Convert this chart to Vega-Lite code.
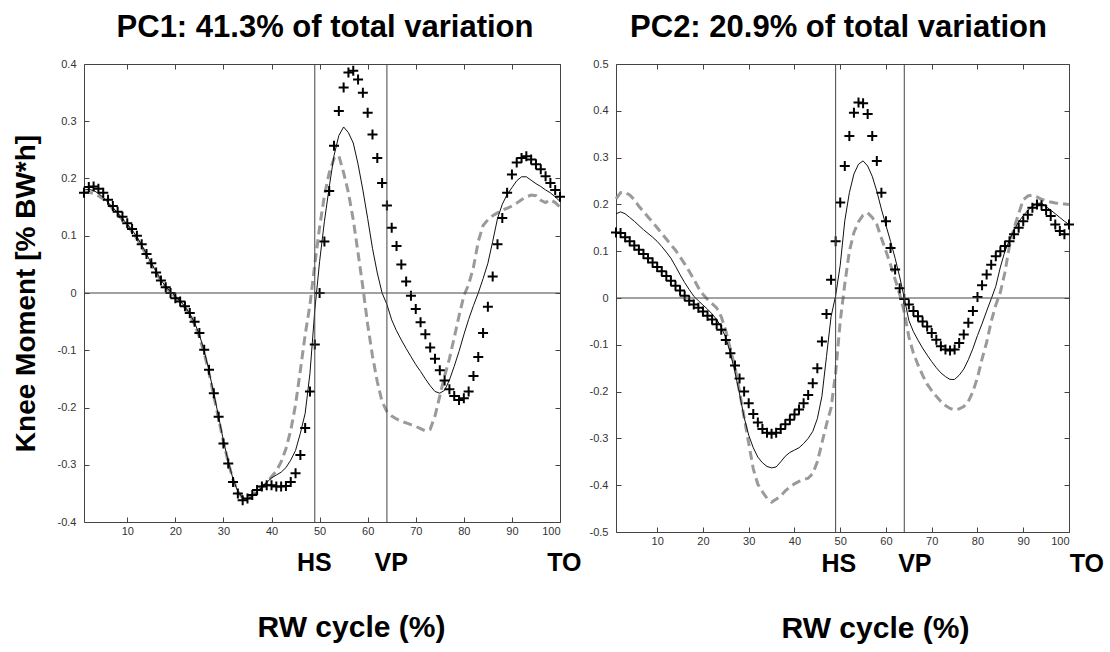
{
  "$schema": "https://vega.github.io/schema/vega-lite/v6.json",
  "background": "white",
  "padding": {"left": 12, "top": 12, "right": 5, "bottom": 5},
  "spacing": 7,
  "config": {
    "view": {"stroke": null},
    "font": "Liberation Sans",
    "axis": {
      "grid": false,
      "domainColor": "#444",
      "tickColor": "#444",
      "tickSize": -5,
      "labelColor": "#333",
      "labelFontSize": 11,
      "labelFont": "Liberation Sans",
      "titleFont": "Liberation Sans",
      "titleFontWeight": "bold",
      "titleColor": "#000"
    },
    "title": {"fontSize": 31, "fontWeight": "bold", "font": "Liberation Sans", "color": "#000", "offset": 14}
  },
  "datasets": {
    "pc1": [
      {"x":1,"p":0.175,"m":0.180,"d":0.175},{"x":2,"p":0.185,"m":0.181,"d":0.176},{"x":3,"p":0.186,"m":0.179,"d":0.174},{"x":4,"p":0.182,"m":0.174,"d":0.170},{"x":5,"p":0.175,"m":0.167,"d":0.164},
      {"x":6,"p":0.163,"m":0.158,"d":0.156},{"x":7,"p":0.152,"m":0.149,"d":0.147},{"x":8,"p":0.142,"m":0.140,"d":0.138},{"x":9,"p":0.133,"m":0.130,"d":0.128},{"x":10,"p":0.122,"m":0.120,"d":0.118},
      {"x":11,"p":0.112,"m":0.110,"d":0.107},{"x":12,"p":0.100,"m":0.098,"d":0.095},{"x":13,"p":0.085,"m":0.084,"d":0.081},{"x":14,"p":0.068,"m":0.068,"d":0.066},{"x":15,"p":0.052,"m":0.052,"d":0.050},
      {"x":16,"p":0.036,"m":0.037,"d":0.035},{"x":17,"p":0.022,"m":0.023,"d":0.022},{"x":18,"p":0.010,"m":0.011,"d":0.010},{"x":19,"p":0.000,"m":0.002,"d":0.001},{"x":20,"p":-0.009,"m":-0.006,"d":-0.007},
      {"x":21,"p":-0.015,"m":-0.014,"d":-0.015},{"x":22,"p":-0.023,"m":-0.024,"d":-0.025},{"x":23,"p":-0.035,"m":-0.036,"d":-0.038},{"x":24,"p":-0.050,"m":-0.052,"d":-0.055},{"x":25,"p":-0.070,"m":-0.073,"d":-0.077},
      {"x":26,"p":-0.099,"m":-0.101,"d":-0.105},{"x":27,"p":-0.134,"m":-0.136,"d":-0.140},{"x":28,"p":-0.175,"m":-0.176,"d":-0.180},{"x":29,"p":-0.216,"m":-0.216,"d":-0.220},{"x":30,"p":-0.263,"m":-0.258,"d":-0.260},
      {"x":31,"p":-0.298,"m":-0.294,"d":-0.296},{"x":32,"p":-0.330,"m":-0.325,"d":-0.326},{"x":33,"p":-0.350,"m":-0.347,"d":-0.347},{"x":34,"p":-0.362,"m":-0.358,"d":-0.358},{"x":35,"p":-0.359,"m":-0.360,"d":-0.358},
      {"x":36,"p":-0.353,"m":-0.355,"d":-0.353},{"x":37,"p":-0.344,"m":-0.347,"d":-0.346},{"x":38,"p":-0.338,"m":-0.339,"d":-0.339},{"x":39,"p":-0.336,"m":-0.331,"d":-0.332},{"x":40,"p":-0.336,"m":-0.323,"d":-0.321},
      {"x":41,"p":-0.338,"m":-0.318,"d":-0.311},{"x":42,"p":-0.338,"m":-0.313,"d":-0.295},{"x":43,"p":-0.337,"m":-0.305,"d":-0.272},{"x":44,"p":-0.330,"m":-0.292,"d":-0.240},{"x":45,"p":-0.315,"m":-0.275,"d":-0.195},
      {"x":46,"p":-0.283,"m":-0.245,"d":-0.135},{"x":47,"p":-0.236,"m":-0.210,"d":-0.073},{"x":48,"p":-0.172,"m":-0.140,"d":-0.020},{"x":49,"p":-0.090,"m":-0.030,"d":0.050},{"x":50,"p":0.000,"m":0.055,"d":0.115},
      {"x":51,"p":0.090,"m":0.125,"d":0.170},{"x":52,"p":0.178,"m":0.185,"d":0.210},{"x":53,"p":0.257,"m":0.240,"d":0.235},{"x":54,"p":0.318,"m":0.275,"d":0.240},{"x":55,"p":0.359,"m":0.290,"d":0.210},
      {"x":56,"p":0.385,"m":0.280,"d":0.175},{"x":57,"p":0.388,"m":0.262,"d":0.128},{"x":58,"p":0.373,"m":0.225,"d":0.070},{"x":59,"p":0.350,"m":0.180,"d":0.010},{"x":60,"p":0.315,"m":0.130,"d":-0.055},
      {"x":61,"p":0.277,"m":0.078,"d":-0.110},{"x":62,"p":0.236,"m":0.035,"d":-0.155},{"x":63,"p":0.192,"m":0.000,"d":-0.190},{"x":64,"p":0.153,"m":-0.020,"d":-0.207},{"x":65,"p":0.114,"m":-0.047,"d":-0.215},
      {"x":66,"p":0.082,"m":-0.066,"d":-0.220},{"x":67,"p":0.050,"m":-0.082,"d":-0.224},{"x":68,"p":0.020,"m":-0.097,"d":-0.227},{"x":69,"p":-0.005,"m":-0.111,"d":-0.230},{"x":70,"p":-0.028,"m":-0.125,"d":-0.233},
      {"x":71,"p":-0.051,"m":-0.137,"d":-0.237},{"x":72,"p":-0.072,"m":-0.150,"d":-0.241},{"x":73,"p":-0.095,"m":-0.162,"d":-0.238},{"x":74,"p":-0.115,"m":-0.172,"d":-0.215},{"x":75,"p":-0.135,"m":-0.175,"d":-0.180},
      {"x":76,"p":-0.153,"m":-0.170,"d":-0.145},{"x":77,"p":-0.168,"m":-0.152,"d":-0.115},{"x":78,"p":-0.180,"m":-0.128,"d":-0.078},{"x":79,"p":-0.187,"m":-0.102,"d":-0.040},{"x":80,"p":-0.184,"m":-0.073,"d":-0.005},
      {"x":81,"p":-0.172,"m":-0.046,"d":0.015},{"x":82,"p":-0.145,"m":-0.022,"d":0.045},{"x":83,"p":-0.112,"m":0.000,"d":0.090},{"x":84,"p":-0.070,"m":0.025,"d":0.118},{"x":85,"p":-0.024,"m":0.052,"d":0.128},
      {"x":86,"p":0.029,"m":0.090,"d":0.135},{"x":87,"p":0.085,"m":0.130,"d":0.140},{"x":88,"p":0.131,"m":0.155,"d":0.145},{"x":89,"p":0.175,"m":0.172,"d":0.148},{"x":90,"p":0.207,"m":0.184,"d":0.152},
      {"x":91,"p":0.228,"m":0.196,"d":0.157},{"x":92,"p":0.236,"m":0.203,"d":0.163},{"x":93,"p":0.239,"m":0.203,"d":0.168},{"x":94,"p":0.233,"m":0.197,"d":0.171},{"x":95,"p":0.225,"m":0.191,"d":0.170},
      {"x":96,"p":0.216,"m":0.186,"d":0.162},{"x":97,"p":0.204,"m":0.180,"d":0.158},{"x":98,"p":0.192,"m":0.175,"d":0.163},{"x":99,"p":0.180,"m":0.168,"d":0.158},{"x":100,"p":0.168,"m":0.160,"d":0.150}
    ],
    "pc2": [
      {"x":1,"p":0.140,"m":0.180,"d":0.212},{"x":2,"p":0.139,"m":0.184,"d":0.225},{"x":3,"p":0.130,"m":0.180,"d":0.226},{"x":4,"p":0.121,"m":0.172,"d":0.220},{"x":5,"p":0.112,"m":0.164,"d":0.210},
      {"x":6,"p":0.103,"m":0.155,"d":0.196},{"x":7,"p":0.094,"m":0.146,"d":0.185},{"x":8,"p":0.085,"m":0.138,"d":0.173},{"x":9,"p":0.076,"m":0.130,"d":0.162},{"x":10,"p":0.066,"m":0.121,"d":0.150},
      {"x":11,"p":0.057,"m":0.110,"d":0.138},{"x":12,"p":0.047,"m":0.098,"d":0.126},{"x":13,"p":0.037,"m":0.085,"d":0.114},{"x":14,"p":0.026,"m":0.068,"d":0.102},{"x":15,"p":0.016,"m":0.050,"d":0.088},
      {"x":16,"p":0.005,"m":0.033,"d":0.073},{"x":17,"p":-0.006,"m":0.018,"d":0.057},{"x":18,"p":-0.014,"m":0.004,"d":0.040},{"x":19,"p":-0.021,"m":-0.006,"d":0.022},{"x":20,"p":-0.029,"m":-0.015,"d":0.008},
      {"x":21,"p":-0.038,"m":-0.024,"d":-0.003},{"x":22,"p":-0.046,"m":-0.034,"d":-0.012},{"x":23,"p":-0.056,"m":-0.046,"d":-0.021},{"x":24,"p":-0.068,"m":-0.062,"d":-0.040},{"x":25,"p":-0.090,"m":-0.085,"d":-0.070},
      {"x":26,"p":-0.118,"m":-0.118,"d":-0.110},{"x":27,"p":-0.144,"m":-0.158,"d":-0.148},{"x":28,"p":-0.172,"m":-0.205,"d":-0.200},{"x":29,"p":-0.200,"m":-0.255,"d":-0.255},{"x":30,"p":-0.225,"m":-0.293,"d":-0.310},
      {"x":31,"p":-0.248,"m":-0.320,"d":-0.365},{"x":32,"p":-0.266,"m":-0.340,"d":-0.398},{"x":33,"p":-0.280,"m":-0.352,"d":-0.414},{"x":34,"p":-0.288,"m":-0.360,"d":-0.428},{"x":35,"p":-0.290,"m":-0.363,"d":-0.436},
      {"x":36,"p":-0.288,"m":-0.361,"d":-0.430},{"x":37,"p":-0.280,"m":-0.350,"d":-0.423},{"x":38,"p":-0.270,"m":-0.338,"d":-0.412},{"x":39,"p":-0.260,"m":-0.330,"d":-0.404},{"x":40,"p":-0.249,"m":-0.325,"d":-0.397},
      {"x":41,"p":-0.238,"m":-0.320,"d":-0.392},{"x":42,"p":-0.225,"m":-0.311,"d":-0.388},{"x":43,"p":-0.207,"m":-0.300,"d":-0.385},{"x":44,"p":-0.182,"m":-0.285,"d":-0.375},{"x":45,"p":-0.150,"m":-0.258,"d":-0.350},
      {"x":46,"p":-0.093,"m":-0.210,"d":-0.310},{"x":47,"p":-0.034,"m":-0.125,"d":-0.270},{"x":48,"p":0.039,"m":-0.040,"d":-0.235},{"x":49,"p":0.121,"m":0.005,"d":-0.160},{"x":50,"p":0.204,"m":0.070,"d":-0.050},
      {"x":51,"p":0.282,"m":0.165,"d":0.030},{"x":52,"p":0.346,"m":0.225,"d":0.100},{"x":53,"p":0.396,"m":0.265,"d":0.140},{"x":54,"p":0.418,"m":0.286,"d":0.163},{"x":55,"p":0.416,"m":0.293,"d":0.177},
      {"x":56,"p":0.393,"m":0.282,"d":0.182},{"x":57,"p":0.346,"m":0.260,"d":0.172},{"x":58,"p":0.293,"m":0.228,"d":0.157},{"x":59,"p":0.225,"m":0.190,"d":0.128},{"x":60,"p":0.164,"m":0.155,"d":0.100},
      {"x":61,"p":0.107,"m":0.121,"d":0.071},{"x":62,"p":0.061,"m":0.085,"d":0.040},{"x":63,"p":0.021,"m":0.045,"d":0.008},{"x":64,"p":-0.002,"m":0.000,"d":-0.030},{"x":65,"p":-0.014,"m":-0.048,"d":-0.083},
      {"x":66,"p":-0.028,"m":-0.072,"d":-0.118},{"x":67,"p":-0.039,"m":-0.090,"d":-0.143},{"x":68,"p":-0.050,"m":-0.107,"d":-0.165},{"x":69,"p":-0.061,"m":-0.122,"d":-0.184},{"x":70,"p":-0.075,"m":-0.136,"d":-0.198},
      {"x":71,"p":-0.089,"m":-0.149,"d":-0.210},{"x":72,"p":-0.103,"m":-0.160,"d":-0.221},{"x":73,"p":-0.110,"m":-0.168,"d":-0.230},{"x":74,"p":-0.112,"m":-0.174,"d":-0.236},{"x":75,"p":-0.110,"m":-0.174,"d":-0.239},
      {"x":76,"p":-0.096,"m":-0.165,"d":-0.237},{"x":77,"p":-0.078,"m":-0.152,"d":-0.232},{"x":78,"p":-0.053,"m":-0.132,"d":-0.221},{"x":79,"p":-0.028,"m":-0.108,"d":-0.200},{"x":80,"p":0.002,"m":-0.080,"d":-0.170},
      {"x":81,"p":0.027,"m":-0.055,"d":-0.130},{"x":82,"p":0.050,"m":-0.028,"d":-0.095},{"x":83,"p":0.071,"m":-0.002,"d":-0.050},{"x":84,"p":0.089,"m":0.025,"d":-0.015},{"x":85,"p":0.100,"m":0.066,"d":0.012},
      {"x":86,"p":0.111,"m":0.100,"d":0.055},{"x":87,"p":0.121,"m":0.124,"d":0.112},{"x":88,"p":0.136,"m":0.145,"d":0.150},{"x":89,"p":0.150,"m":0.163,"d":0.180},{"x":90,"p":0.164,"m":0.176,"d":0.210},
      {"x":91,"p":0.178,"m":0.187,"d":0.218},{"x":92,"p":0.193,"m":0.196,"d":0.220},{"x":93,"p":0.200,"m":0.202,"d":0.216},{"x":94,"p":0.198,"m":0.203,"d":0.211},{"x":95,"p":0.188,"m":0.195,"d":0.208},
      {"x":96,"p":0.175,"m":0.188,"d":0.205},{"x":97,"p":0.157,"m":0.180,"d":0.203},{"x":98,"p":0.143,"m":0.172,"d":0.202},{"x":99,"p":0.136,"m":0.164,"d":0.201},{"x":100,"p":0.157,"m":0.157,"d":0.200}
    ]
  },
  "hconcat": [
    {
      "title": {"text": "PC1: 41.3% of total variation", "dx": 3},
      "width": 476,
      "height": 458,
      "layer": [
        {
          "data": {"name": "pc1"},
          "mark": {"type": "line", "color": "#9a9a9a", "strokeWidth": 3, "strokeDash": [9, 5]},
          "encoding": {
            "x": {"field": "x", "type": "quantitative", "scale": {"domain": [1, 100], "nice": false, "zero": false}, "axis": null},
            "y": {"field": "d", "type": "quantitative", "scale": {"domain": [-0.4, 0.4], "nice": false, "zero": false}, "axis": null}
          }
        },
        {
          "data": {"name": "pc1"},
          "mark": {"type": "line", "color": "#111", "strokeWidth": 1},
          "encoding": {
            "x": {"field": "x", "type": "quantitative", "scale": {"domain": [1, 100], "nice": false, "zero": false},
                  "axis": {"orient": "bottom", "values": [10, 20, 30, 40, 50, 60, 70, 80, 90, 100], "labelPadding": 8, "title": "RW cycle (%)", "titleFontSize": 30, "titlePadding": 76, "titleX": 267}},
            "y": {"field": "m", "type": "quantitative", "scale": {"domain": [-0.4, 0.4], "nice": false, "zero": false},
                  "axis": {"orient": "left", "values": [-0.4, -0.3, -0.2, -0.1, 0, 0.1, 0.2, 0.3, 0.4], "labelExpr": "'' + round(datum.value * 10) / 10", "labelPadding": 13, "title": "Knee Moment [% BW*h]", "titleFontSize": 28, "titlePadding": 17}}
          }
        },
        {
          "data": {"name": "pc1"},
          "mark": {"type": "point", "shape": "M-1,0L1,0M0,-1L0,1", "size": 100, "strokeWidth": 2, "color": "#000", "filled": false, "opacity": 1},
          "encoding": {
            "x": {"field": "x", "type": "quantitative", "scale": {"domain": [1, 100], "nice": false, "zero": false}, "axis": null},
            "y": {"field": "p", "type": "quantitative", "scale": {"domain": [-0.4, 0.4], "nice": false, "zero": false}, "axis": null}
          }
        },
        {
          "data": {"values": [{"v": 0}]},
          "mark": {"type": "rule", "color": "#444", "strokeWidth": 1},
          "encoding": {
            "y": {"field": "v", "type": "quantitative", "scale": {"domain": [-0.4, 0.4], "nice": false, "zero": false},
                  "axis": {"orient": "right", "values": [-0.4, -0.3, -0.2, -0.1, 0, 0.1, 0.2, 0.3, 0.4], "labels": false, "title": null}}
          }
        },
        {
          "data": {"values": [{"v": 49}, {"v": 64}]},
          "mark": {"type": "rule", "color": "#444", "strokeWidth": 1},
          "encoding": {
            "x": {"field": "v", "type": "quantitative", "scale": {"domain": [1, 100], "nice": false, "zero": false},
                  "axis": {"orient": "top", "values": [10, 20, 30, 40, 50, 60, 70, 80, 90, 100], "labels": false, "title": null}}
          }
        },
        {
          "data": {"values": [{"event": "HS", "x": 48.9, "y": -0.472}, {"event": "VP", "x": 64.9, "y": -0.472}, {"event": "TO", "x": 100.9, "y": -0.472}]},
          "mark": {"type": "text", "fontSize": 25, "fontWeight": "bold", "color": "#000", "baseline": "middle", "align": "center"},
          "encoding": {
            "x": {"field": "x", "type": "quantitative", "scale": {"domain": [1, 100], "nice": false, "zero": false}, "axis": null},
            "y": {"field": "y", "type": "quantitative", "scale": {"domain": [-0.4, 0.4], "nice": false, "zero": false}, "axis": null},
            "text": {"field": "event"}
          }
        }
      ],
      "resolve": {"axis": {"x": "independent", "y": "independent"}}
    },
    {
      "title": {"text": "PC2: 20.9% of total variation", "dx": -4},
      "width": 453,
      "height": 468,
      "layer": [
        {
          "data": {"name": "pc2"},
          "mark": {"type": "line", "color": "#9a9a9a", "strokeWidth": 3, "strokeDash": [9, 5]},
          "encoding": {
            "x": {"field": "x", "type": "quantitative", "scale": {"domain": [1, 100], "nice": false, "zero": false}, "axis": null},
            "y": {"field": "d", "type": "quantitative", "scale": {"domain": [-0.5, 0.5], "nice": false, "zero": false}, "axis": null}
          }
        },
        {
          "data": {"name": "pc2"},
          "mark": {"type": "line", "color": "#111", "strokeWidth": 1},
          "encoding": {
            "x": {"field": "x", "type": "quantitative", "scale": {"domain": [1, 100], "nice": false, "zero": false},
                  "axis": {"orient": "bottom", "values": [10, 20, 30, 40, 50, 60, 70, 80, 90, 100], "labelPadding": 8, "title": "RW cycle (%)", "titleFontSize": 30, "titlePadding": 67, "titleX": 259}},
            "y": {"field": "m", "type": "quantitative", "scale": {"domain": [-0.5, 0.5], "nice": false, "zero": false},
                  "axis": {"orient": "left", "values": [-0.5, -0.4, -0.3, -0.2, -0.1, 0, 0.1, 0.2, 0.3, 0.4, 0.5], "labelExpr": "'' + round(datum.value * 10) / 10", "labelPadding": 13, "title": null}}
          }
        },
        {
          "data": {"name": "pc2"},
          "mark": {"type": "point", "shape": "M-1,0L1,0M0,-1L0,1", "size": 100, "strokeWidth": 2, "color": "#000", "filled": false, "opacity": 1},
          "encoding": {
            "x": {"field": "x", "type": "quantitative", "scale": {"domain": [1, 100], "nice": false, "zero": false}, "axis": null},
            "y": {"field": "p", "type": "quantitative", "scale": {"domain": [-0.5, 0.5], "nice": false, "zero": false}, "axis": null}
          }
        },
        {
          "data": {"values": [{"v": 0}]},
          "mark": {"type": "rule", "color": "#444", "strokeWidth": 1},
          "encoding": {
            "y": {"field": "v", "type": "quantitative", "scale": {"domain": [-0.5, 0.5], "nice": false, "zero": false},
                  "axis": {"orient": "right", "values": [-0.5, -0.4, -0.3, -0.2, -0.1, 0, 0.1, 0.2, 0.3, 0.4, 0.5], "labels": false, "title": null}}
          }
        },
        {
          "data": {"values": [{"v": 49}, {"v": 64}]},
          "mark": {"type": "rule", "color": "#444", "strokeWidth": 1},
          "encoding": {
            "x": {"field": "v", "type": "quantitative", "scale": {"domain": [1, 100], "nice": false, "zero": false},
                  "axis": {"orient": "top", "values": [10, 20, 30, 40, 50, 60, 70, 80, 90, 100], "labels": false, "title": null}}
          }
        },
        {
          "data": {"values": [{"event": "HS", "x": 49.7, "y": -0.568}, {"event": "VP", "x": 66.3, "y": -0.568}, {"event": "TO", "x": 103.9, "y": -0.568}]},
          "mark": {"type": "text", "fontSize": 25, "fontWeight": "bold", "color": "#000", "baseline": "middle", "align": "center"},
          "encoding": {
            "x": {"field": "x", "type": "quantitative", "scale": {"domain": [1, 100], "nice": false, "zero": false}, "axis": null},
            "y": {"field": "y", "type": "quantitative", "scale": {"domain": [-0.5, 0.5], "nice": false, "zero": false}, "axis": null},
            "text": {"field": "event"}
          }
        }
      ],
      "resolve": {"axis": {"x": "independent", "y": "independent"}}
    }
  ]
}
